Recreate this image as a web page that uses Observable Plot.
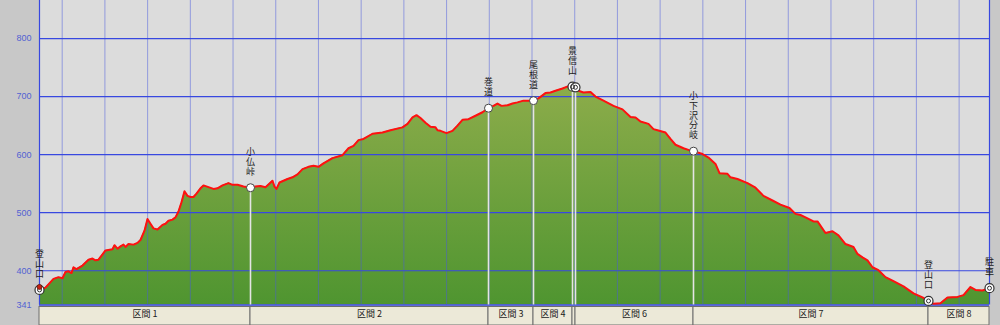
<!DOCTYPE html>
<html><head><meta charset="utf-8">
<script src="https://cdn.jsdelivr.net/npm/d3@7"></script>
<script src="https://cdn.jsdelivr.net/npm/@observablehq/plot@0.6"></script>
<style>html,body{margin:0;padding:0;background:#c8c8c8;} #chart{width:1000px;height:325px;overflow:hidden}</style>
</head><body><div id="chart"></div>
<script>
// Horizontal distance along the trail (chart units) and elevation (m)
const profileDist = [0,6,14,19,23,26,29,32,34,37,43,49,53,56,59,66,73,75,78,81,84,86,89,94,98,101,105,108,111,114,118,123,126,129,133,136,139,142,145,148,151,154,157,161,164,169,174,178,183,189,193,198,204,211,216,221,226,233,235,237,240,248,253,258,263,269,274,279,284,293,303,309,314,319,324,333,343,351,363,368,373,377,381,386,391,396,398,401,407,413,418,423,429,436,443,449,454,458,462,468,473,478,484,494,499,506,511,516,523,529,533,536,539,544,551,556,564,574,583,591,596,601,609,614,618,626,631,636,644,651,654,663,669,676,680,688,691,698,708,716,724,733,741,750,756,761,766,774,778,786,793,799,806,814,818,823,828,833,839,846,854,864,874,883,889,894,901,908,918,924,931,936,943,950];
const profileElev = [367,371,386,389,387,398,399,396,406,403,409,419,421,418,419,435,437,444,438,442,445,441,446,445,448,453,469,489,481,473,471,479,481,486,488,492,502,518,537,529,527,527,533,542,547,544,541,542,547,551,548,548,545,543,545,546,544,555,545,541,552,558,561,566,575,579,581,579,585,594,599,611,615,625,627,636,638,642,647,653,664,668,663,655,648,647,642,641,637,641,650,660,661,667,673,680,684,688,684,685,688,690,693,693,697,706,707,710,714,718,717,716,710,707,708,700,693,684,678,665,664,657,653,644,642,638,627,617,611,607,606,601,595,584,568,567,561,558,551,543,529,521,514,508,498,496,492,485,485,465,468,461,446,441,429,423,418,406,401,389,382,373,361,354,348,343,344,354,355,358,372,367,366,370];

// Waypoints
const wpNames = ["登山口","小仏峠","巻道","尾根道","景信山","","小下沢分岐","登山口","駐車"];
const wpDist  = [0,211,449,494,533,536,654,889,950];
const wpElev  = [367,543,680,693,717,716,606,348,370];
const wpKind  = ["double","plain","plain","plain","double","double","plain","double","double"];

// Sections
const sectionLabels = ["区間 1","区間 2","区間 3","区間 4","区間 5","区間 6","区間 7","区間 8"];
const sectionBounds = [0,211,449,494,533,536,654,889,950];

// Axis ticks
const yTicks = [341,400,500,600,700,800];
const gridElev = [400,500,600,700,800];
const gridDist = d3.range(22).map(i => 22.7 + i * 42.71);

const yBase = 341, yTop = 865.5, yMin = 305.7, xMax = 950;

const profile = profileDist.map((d, i) => ({dist: d, elev: profileElev[i]}));
const waypoints = wpNames.map((n, i) => ({name: n, dist: wpDist[i], elev: wpElev[i], kind: wpKind[i]}));
const dividers = waypoints.filter((w, i) => i >= 1 && i <= 6);
const sections = sectionLabels.map((l, i) => ({label: l, start: sectionBounds[i], end: sectionBounds[i + 1]}));

// vertical labels: one text per character, k = position counted from the bottom
const chars = [];
waypoints.forEach(w => {
  const cs = [...w.name];
  cs.forEach((c, j) => chars.push({ch: c, dist: w.dist, elev: w.elev, k: cs.length - 1 - j}));
});
const maxK = d3.max(chars, d => d.k);

const cjk = "'Noto Sans CJK JP', 'Noto Sans', sans-serif";

const labelMarks = d3.range(maxK + 1).map(k =>
  Plot.text(chars.filter(d => d.k === k), {x: "dist", y: "elev", text: "ch", dy: -16 - k * 9.7, fontSize: 9, fill: "#222", fontFamily: cjk})
);

const svg = Plot.plot({
  width: 1000, height: 325,
  marginLeft: 39, marginRight: 11, marginTop: 0, marginBottom: 0,
  style: {background: "#c8c8c8", color: "#5262d2", fontFamily: "'Liberation Sans', Arial, sans-serif", fontSize: "9px"},
  x: {domain: [0, xMax], axis: null},
  y: {domain: [yMin, yTop], ticks: yTicks, tickFormat: d => String(d), tickSize: 0, tickPadding: 8, label: null},
  marks: [
    Plot.rect([0], {x1: 0, x2: xMax, y1: yBase, y2: yTop, fill: "#dcdcdc"}),
    Plot.areaY(profile, {x: "dist", y1: yBase, y2: "elev", fill: "url(#profileGrad)"}),
    Plot.ruleX(gridDist, {y1: yBase, y2: yTop, stroke: "#4a5ae0", strokeOpacity: 0.5}),
    Plot.ruleY(gridElev, {x1: 0, x2: xMax, stroke: "#3848e0", strokeWidth: 1.2}),
    Plot.ruleX([0, xMax], {y1: yBase, y2: yTop, stroke: "#3848e0", strokeWidth: 1.2}),
    Plot.ruleY([yBase], {x1: 0, x2: xMax, stroke: "#3848e0", strokeWidth: 1.5}),
    Plot.ruleX(dividers, {x: "dist", y1: yBase, y2: "elev", stroke: "#e4e4e4", strokeWidth: 1.6}),
    Plot.line(profile, {x: "dist", y: "elev", stroke: "#ff1010", strokeWidth: 2}),
    ...labelMarks,
    Plot.dot(waypoints.filter(w => w.kind === "plain"), {x: "dist", y: "elev", r: 4, fill: "white", stroke: "#444", strokeWidth: 1}),
    Plot.dot(waypoints.filter(w => w.kind === "double"), {x: "dist", y: "elev", r: 4.5, fill: "white", stroke: "#333", strokeWidth: 1.2}),
    Plot.dot(waypoints.filter(w => w.kind === "double"), {x: "dist", y: "elev", r: 2, fill: "none", stroke: "#333", strokeWidth: 1}),
    Plot.dot(waypoints.slice(0, 1), {x: "dist", y: "elev", r: 2.5, fill: "#c82010", stroke: "#5a1a10", strokeWidth: 0.8, dy: -3}),
    Plot.rect(sections, {x1: "start", x2: "end", y1: yMin, y2: yBase, insetTop: 2, fill: "#ece9d8", stroke: "#6e6e6e", strokeWidth: 1}),
    Plot.text(sections.filter(s => s.end - s.start > 20), {x: d => (d.start + d.end) / 2, frameAnchor: "bottom", dy: -9, text: "label", fontSize: 9, fill: "#222", fontFamily: cjk})
  ]
});

const sel = d3.select(svg);
const grad = sel.insert("defs", ":first-child").append("linearGradient")
  .attr("id", "profileGrad").attr("x1", 0).attr("y1", 0).attr("x2", 0).attr("y2", 1);
grad.append("stop").attr("offset", 0).attr("stop-color", "#8cac4a");
grad.append("stop").attr("offset", 1).attr("stop-color", "#4f9530");

document.getElementById("chart").appendChild(svg);
</script>
</body></html>
